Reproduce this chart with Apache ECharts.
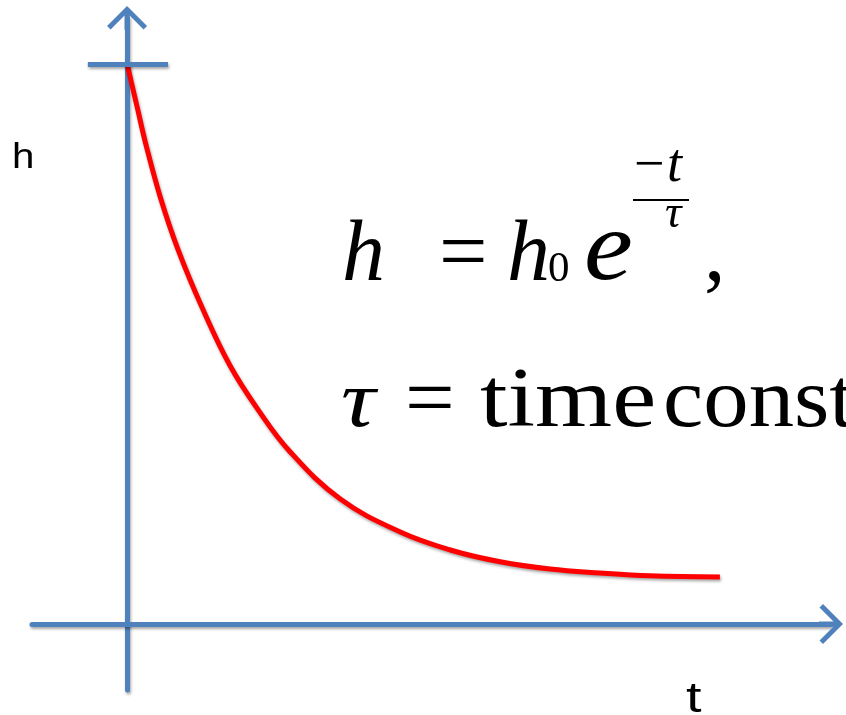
<!DOCTYPE html>
<html>
<head>
<meta charset="utf-8">
<script src="https://cdn.jsdelivr.net/npm/echarts@6/dist/echarts.min.js"></script>
<style>
  html, body { margin: 0; padding: 0; background: #ffffff; }
  #chart { width: 846px; height: 715px; }
</style>
</head>
<body>
<div id="chart"></div>
<script>
// Exponential decay of h over time t
const tValues = [0, 0.17, 0.32, 0.56, 0.86, 1.28, 1.73, 2.19, 2.74, 3.59, 4.6, 5.44, 6.28, 7.12, 7.96, 8.8, 9.98];
const hValues = [10.0, 9.23, 8.55, 7.62, 6.68, 5.61, 4.62, 3.85, 3.08, 2.23, 1.64, 1.32, 1.11, 0.98, 0.91, 0.86, 0.84];

// Initial height h0 marked on the vertical axis
const h0 = 10;
const h0TickSpan = [-0.66, 0.69];

// Axis extents
const tRange = [-1.6, 11.85];
const hRange = [-1.18, 10.82];

const axisBlue = '#4f81bd';
const curveRed = '#ff0000';
const openArrow = 'path://M20,0L40,20L36.5,23.5L22.5,9.5L22.5,24L17.5,24L17.5,9.5L3.5,23.5L0,20Z';

const shadow = {
  shadowColor: 'rgba(0,0,0,0.35)',
  shadowBlur: 3,
  shadowOffsetX: 1,
  shadowOffsetY: 2
};

function axisLine() {
  return {
    show: true,
    onZero: true,
    symbol: ['none', openArrow],
    symbolSize: [40, 24],
    lineStyle: Object.assign({ color: axisBlue, width: 5 }, shadow)
  };
}

const serif = '"Liberation Serif", "Times New Roman", serif';
const sans = '"Liberation Sans", Arial, sans-serif';

// Text piece placed on its alphabetic baseline (approximate via middle alignment)
function piece(text, x, baseline, size, opts) {
  opts = opts || {};
  const family = opts.family || serif;
  const style = opts.italic ? 'italic ' : '';
  return {
    type: 'text',
    x: x,
    y: baseline - size * 0.29,
    scaleX: opts.scaleX || 1,
    scaleY: 1,
    z: 10,
    style: {
      text: text,
      font: style + size + 'px ' + family,
      fill: '#000000',
      align: 'left',
      textAlign: 'left',
      verticalAlign: 'middle',
      textVerticalAlign: 'middle'
    }
  };
}

const chart = echarts.init(document.getElementById('chart'), null, { renderer: 'canvas' });

chart.setOption({
  animation: false,
  backgroundColor: '#ffffff',
  grid: { left: 32, right: 15, top: 18, bottom: 25, containLabel: false },
  xAxis: {
    type: 'value',
    min: tRange[0],
    max: tRange[1],
    axisLine: axisLine(),
    axisTick: { show: false },
    axisLabel: { show: false },
    splitLine: { show: false }
  },
  yAxis: {
    type: 'value',
    min: hRange[0],
    max: hRange[1],
    axisLine: axisLine(),
    axisTick: { show: false },
    axisLabel: { show: false },
    splitLine: { show: false }
  },
  series: [
    {
      type: 'line',
      z: 1,
      data: [],
      markLine: {
        silent: true,
        symbol: ['none', 'none'],
        label: { show: false },
        lineStyle: Object.assign({ color: axisBlue, width: 5, type: 'solid' }, shadow),
        data: [[{ coord: [h0TickSpan[0], h0] }, { coord: [h0TickSpan[1], h0] }]]
      }
    },
    {
      type: 'line',
      z: 3,
      smooth: 0.4,
      showSymbol: false,
      data: tValues.map((t, i) => [t, hValues[i]]),
      lineStyle: Object.assign({ color: curveRed, width: 5 }, shadow)
    }
  ],
  graphic: {
    elements: [
      // axis names
      piece('h', 12, 168, 35, { family: sans, scaleX: 1.15 }),
      piece('t', 686, 713, 43, { family: sans, scaleX: 1.3 }),

      // h = h0 e^(-t/tau),
      piece('h', 342, 282, 86, { italic: true }),
      piece('=', 439, 282, 86),
      piece('h', 507, 282, 86, { italic: true }),
      piece('0', 548, 282, 43),
      piece('e', 584, 282, 100, { italic: true, scaleX: 1.1 }),
      piece('\u2212', 634, 182, 54),
      piece('t', 667, 182, 54, { italic: true }),
      {
        type: 'line',
        z: 10,
        shape: { x1: 633, y1: 200, x2: 689, y2: 200 },
        style: { stroke: '#000000', lineWidth: 2 }
      },
      piece('\u03c4', 665, 228, 46, { italic: true }),
      piece(',', 704, 282, 86),

      // tau = time constant
      piece('\u03c4', 341, 428, 80, { italic: true, scaleX: 1.2 }),
      piece('=', 405, 428, 84, { scaleX: 1.05 }),
      piece('time', 480, 428, 84, { scaleX: 1.18 }),
      piece('const', 663, 428, 84, { scaleX: 1.08 })
    ]
  }
});
</script>
</body>
</html>
